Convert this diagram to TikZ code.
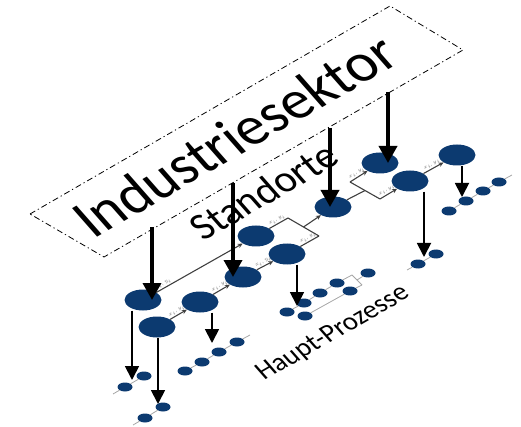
\documentclass[tikz,border=0pt]{standalone}
\usepackage{fontspec}
\setmainfont{Carlito}
\usetikzlibrary{arrows.meta,shapes.geometric}
\definecolor{navy}{RGB}{12,58,112}

\tikzset{
	site/.style={ellipse, fill=navy, minimum width=37pt, minimum height=21pt, inner sep=0pt},
	proc/.style={ellipse, fill=navy, minimum width=15pt, minimum height=9pt, inner sep=0pt},
	flowline/.style={draw=black!75, line width=1.1pt},
	flow/.style={flowline, -{Stealth[length=5pt,width=4.5pt]}},
	pline/.style={draw=black!35, line width=0.8pt},
	flowlabel/.style={font=\fontsize{4.5}{5}\selectfont, text=black!60, sloped, above, inner sep=1pt},
	bigarrow/.style={line width=3.6pt, -{Triangle[length=17pt,width=18pt]}},
	smallarrow/.style={line width=1.8pt, -{Triangle[length=14pt,width=14pt]}},
	layer/.style={anchor=base west, rotate=30, xslant=-0.2, inner sep=0pt},
}

\begin{document}
\begin{tikzpicture}[x=1pt,y=-1pt]
	\useasboundingbox (0,0) rectangle (521,427);
	% sector plane
	\draw[line width=0.8pt, dash pattern=on 6pt off 3pt on 1.2pt off 3pt] (30,214) -- (390,6) -- (463,50) -- (104,257) -- cycle;
	\node[layer, font=\fontsize{58}{62}\selectfont] (sector) at (93,240) {Industriesektor};
	\node[layer, font=\fontsize{40}{44}\selectfont] (sites) at (203,242) {Standorte};
	\node[layer, font=\fontsize{27}{30}\selectfont] (procs) at (264,381) {Haupt-Prozesse};

	% processes below each site
	\node[proc] (pa1) at (125,387) {}; \node[proc] (pa2) at (144,376) {};
	\node[proc] (pb1) at (145,418) {}; \node[proc] (pb2) at (163,407) {};
	\node[proc] (pc1) at (185,371) {}; \node[proc] (pc2) at (202,362) {};
	\node[proc] (pc3) at (219,352) {}; \node[proc] (pc4) at (237,342) {};
	\node[proc] (pd1) at (287,312) {}; \node[proc] (pd2) at (304,303) {};
	\node[proc] (pd3) at (320,293) {}; \node[proc] (pd4) at (337,283) {};
	\node[proc] (pd5) at (305,316) {}; \node[proc] (pd6) at (350,291) {};
	\node[proc] (pd7) at (368,273) {};
	\node[proc] (pe1) at (418,264) {}; \node[proc] (pe2) at (436,254) {};
	\node[proc] (pf1) at (449,211) {}; \node[proc] (pf2) at (466,201) {};
	\node[proc] (pf3) at (483,191) {}; \node[proc] (pf4) at (499,182) {};
	\coordinate (ta) at (113,394); \coordinate (tb) at (133,425);
	\coordinate (tc) at (250,335); \coordinate (te) at (407,270);
	\coordinate (tf) at (512,175);
	\coordinate (q1) at (352,275); \coordinate (q2) at (362,285); \coordinate (q12) at (357,280);
	\draw[pline] (ta) -- (pa1) -- (pa2);
	\draw[pline] (tb) -- (pb1) -- (pb2);
	\draw[pline] (pc1) -- (pc2) -- (pc3) -- (pc4) -- (tc);
	\draw[pline] (pd1) -- (pd2) -- (pd3) -- (pd4) -- (q1) -- (q2);
	\draw[pline] (pd5) -- (pd6) -- (q2);
	\draw[pline] (q12) -- (pd7);
	\draw[pline] (te) -- (pe1) -- (pe2);
	\draw[pline] (pf1) -- (pf2) -- (pf3) -- (pf4) -- (tf);

	% sites
	\node[site] (s1) at (143,300) {};
	\node[site] (s2) at (157,327) {};
	\node[site] (s3) at (200,302) {};
	\node[site] (s4) at (243,277) {};
	\node[site] (s5) at (256,236) {};
	\node[site] (s6) at (287,254) {};
	\node[site] (s7) at (333,207) {};
	\node[site] (s8) at (380,163) {};
	\node[site] (s9) at (410,181) {};
	\node[site] (s10) at (457,155) {};

	% arrows from sites down to their processes
	\coordinate (dE) at (132,380); \coordinate (dF) at (158,404);
	\coordinate (dG) at (212,343); \coordinate (dH) at (297,306);
	\coordinate (dI) at (424,257); \coordinate (dJ) at (462,197);
	\draw[smallarrow] (dE |- s1.south) -- (dE);
	\draw[smallarrow] (dF |- s2.south) -- (dF);
	\draw[smallarrow] (dG |- s3.south) -- (dG);
	\draw[smallarrow] (dH |- s6.south) -- (dH);
	\draw[smallarrow] (dI |- s9.south) -- (dI);
	\draw[smallarrow] (dJ |- s10.south) -- (dJ);

	% flows between sites
	\coordinate (m1) at (288,218); \coordinate (m2) at (319,236); \coordinate (m12) at (303.5,227);
	\coordinate (b1) at (350,182); \coordinate (b2) at (380,199); \coordinate (b12) at (365,190.5);
	\draw[flow] (s1) -- node[flowlabel, pos=0.1] {$x_i,y_i$} (s5);
	\draw[flow] (s2) -- node[flowlabel] {$x_i,y_i$} (s3);
	\draw[flow] (s3) -- node[flowlabel] {$x_i,y_i$} (s4);
	\draw[flow] (s4) -- node[flowlabel] {$x_i,y_i$} (s6);
	\draw[flowline] (s5) -- node[flowlabel] {$x_i,y_i$} (m1) -- (m2);
	\draw[flowline] (s6) -- node[flowlabel] {$x_i,y_i$} (m2);
	\draw[flow] (m12) -- (s7);
	\draw[flowline] (s7) -- (b12);
	\draw[flowline] (b1) -- (b2);
	\draw[flow] (b1) -- node[flowlabel] {$x_i,y_i$} (s8);
	\draw[flow] (b2) -- node[flowlabel] {$x_i,y_i$} (s9);
	\draw[flow] (s9) -- node[flowlabel] {$x_i,y_i$} (s10);

	% sector down to sites
	\coordinate (hA) at (152,227); \coordinate (hB) at (233,183);
	\coordinate (hC) at (330,128); \coordinate (hD) at (388,92);
	\draw[bigarrow] (hA) -- (hA |- s1);
	\draw[bigarrow] (hB) -- (hB |- s4);
	\draw[bigarrow] (hC) -- (hC |- s7.center);
	\draw[bigarrow] (hD) -- (hD |- s8);
\end{tikzpicture}
\end{document}
